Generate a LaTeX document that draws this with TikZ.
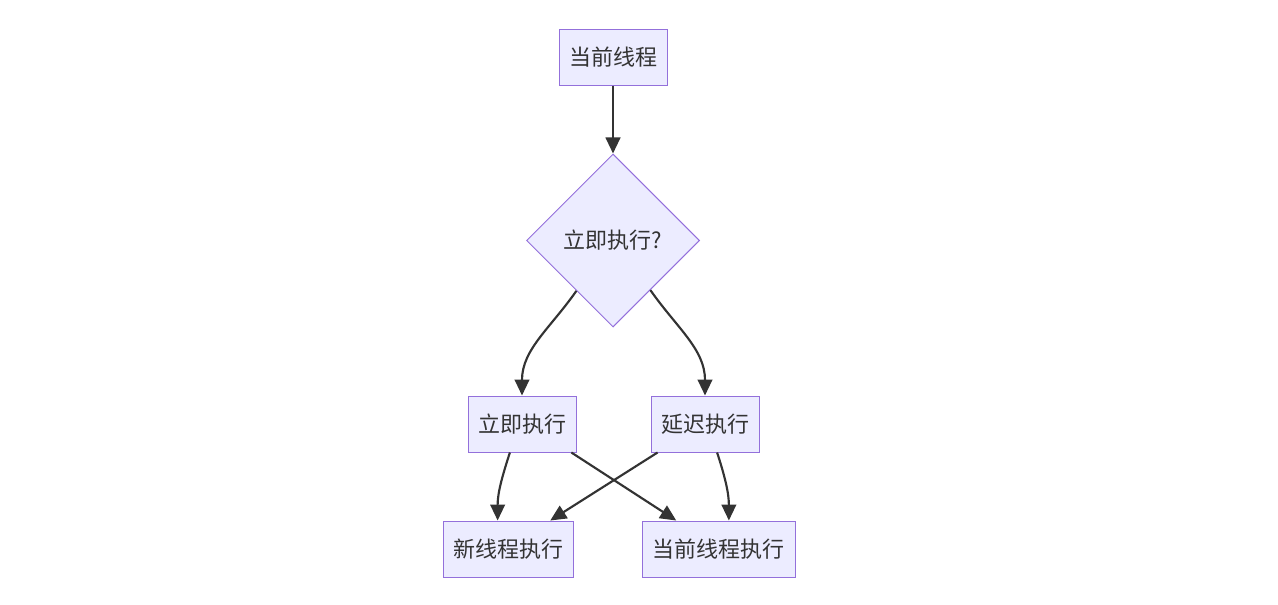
\documentclass[tikz,border=0pt]{standalone}
\usepackage{fontspec}
\setmainfont{Noto Sans CJK SC}
\usetikzlibrary{shapes.geometric,arrows.meta}
\definecolor{nodefill}{HTML}{ECECFF}
\definecolor{nodeline}{HTML}{9370DB}
\definecolor{edgecol}{HTML}{333333}
\begin{document}
\begin{tikzpicture}[x=0.75pt,y=-0.75pt,
  box/.style={draw=nodeline,fill=nodefill,line width=0.75pt,minimum height=42pt,inner sep=0pt,font=\fontsize{16.5pt}{19pt}\selectfont,text=edgecol},
  decision/.style={diamond,draw=nodeline,fill=nodefill,line width=0.75pt,minimum width=129.75pt,minimum height=129.75pt,inner sep=0pt,font=\fontsize{16.5pt}{19pt}\selectfont,text=edgecol},
  edge/.style={draw=edgecol,line width=1.6pt,-{Triangle[length=12pt,width=11pt]}}]
\useasboundingbox (0,0) rectangle (1278,604);
\fill[white] (0,0) rectangle (1278,604);
\node[box,minimum width=81pt] (cur) at (613,57) {当前线程};
\node[decision] (d) at (613,240.5) {立即执行?};
\node[box,minimum width=81pt] (a) at (522,424) {立即执行};
\node[box,minimum width=81pt] (r) at (705,424) {延迟执行};
\node[box,minimum width=97.5pt] (n) at (508,549) {新线程执行};
\node[box,minimum width=114.75pt] (c) at (718.5,549) {当前线程执行};
\draw[edge] (cur) -- (d);
\draw[edge] (d.234) to[out=-125,in=90] (a.north);
\draw[edge] (d.-53) to[out=-55,in=90] (r.north);
\draw[edge] (a.247) to[out=-108,in=90] (n.110);
\draw[edge] (a.-30) -- (c.146);
\draw[edge] (r.211) -- (n.34);
\draw[edge] (r.-67) to[out=-72,in=90] (c.70);
\end{tikzpicture}
\end{document}
